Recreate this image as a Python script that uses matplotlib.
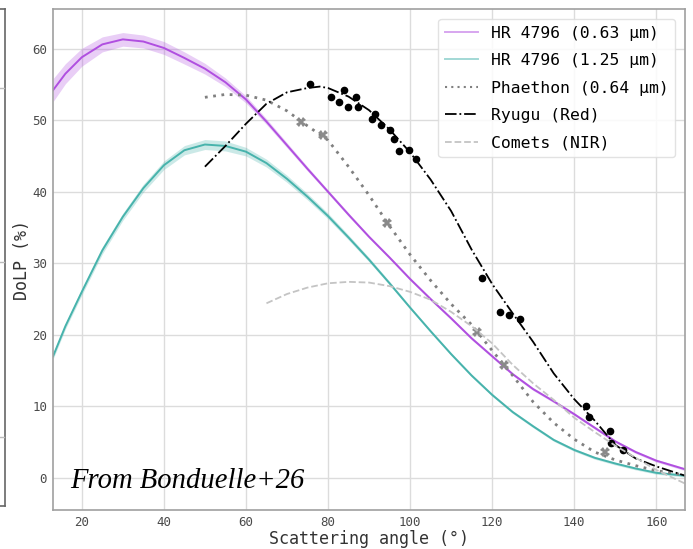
import matplotlib.pyplot as plt
from matplotlib.lines import Line2D

# HR 4796 model curves (degree of linear polarisation, %)
hr_angle = [13, 16, 20, 25, 30, 35, 40, 45, 50, 55, 60, 65, 70, 75, 80, 85, 90,
            95, 100, 105, 110, 115, 120, 125, 130, 135, 140, 145, 150, 155, 160, 167]
hr_063 = [54.2, 56.5, 58.8, 60.6, 61.3, 61.0, 60.1, 58.7, 57.2, 55.3, 52.9, 49.8,
          46.5, 43.2, 40.0, 36.8, 33.7, 30.8, 27.8, 25.0, 22.3, 19.5, 17.0, 14.5,
          12.4, 10.7, 8.9, 7.0, 5.1, 3.6, 2.4, 1.2]
hr_063_err = [1.6, 1.4, 1.25, 1.05, 0.95, 0.9, 0.9, 0.85, 0.75, 0.6, 0.5, 0.4,
              0.35, 0.3, 0.25, 0.25, 0.2, 0.2, 0.2, 0.2, 0.2, 0.2, 0.2, 0.2,
              0.2, 0.2, 0.2, 0.2, 0.2, 0.2, 0.2, 0.2]
hr_125 = [17.0, 21.2, 26.0, 31.8, 36.5, 40.5, 43.7, 45.8, 46.6, 46.4, 45.6, 44.0,
          41.8, 39.3, 36.6, 33.6, 30.5, 27.2, 23.8, 20.5, 17.3, 14.3, 11.6, 9.2,
          7.2, 5.3, 3.9, 2.8, 2.0, 1.3, 0.7, 0.3]
hr_125_err = [0.4, 0.4, 0.45, 0.5, 0.5, 0.55, 0.6, 0.65, 0.7, 0.7, 0.6, 0.55,
              0.5, 0.45, 0.4, 0.35, 0.3, 0.25, 0.2, 0.2, 0.2, 0.2, 0.2, 0.2,
              0.2, 0.2, 0.2, 0.2, 0.2, 0.2, 0.2, 0.2]

# Phaethon (0.64 um)
ph_angle = [50, 55, 60, 65, 70, 75, 80, 85, 90, 95, 100, 105, 110, 115, 120,
            125, 130, 135, 140, 145, 150, 155, 160, 167]
ph_fit = [53.2, 53.6, 53.5, 52.8, 51.3, 49.2, 47.2, 43.5, 39.5, 35.2, 31.2, 27.6,
          24.3, 21.4, 17.8, 14.3, 10.6, 7.7, 5.4, 3.6, 2.5, 1.7, 1.0, 0.4]
ph_obs_angle = [73.5, 78.8, 94.4, 116.4, 122.8, 147.6]
ph_obs = [49.8, 48.0, 35.6, 20.4, 15.8, 3.6]

# Ryugu (Red)
ry_angle = [50, 55, 60, 65, 70, 75, 78, 80, 85, 90, 95, 100, 105, 110, 115, 120,
            125, 130, 135, 140, 145, 150, 155, 160, 167]
ry_fit = [43.5, 46.4, 49.5, 52.3, 53.9, 54.5, 54.7, 54.5, 53.3, 51.4, 48.7, 45.5,
          41.7, 37.3, 31.9, 27.1, 23.0, 19.0, 14.6, 11.0, 8.0, 4.6, 2.7, 1.6, 0.3]
ry_obs_angle = [75.7, 80.7, 82.6, 84.0, 84.9, 86.8, 87.2, 90.7, 91.5, 93.0, 95.2,
                96.0, 97.2, 99.8, 101.5, 117.5, 122.0, 124.0, 126.9, 142.9, 143.5,
                148.7, 148.9, 151.9]
ry_obs = [55.1, 53.2, 52.6, 54.2, 51.8, 53.2, 51.9, 50.2, 50.9, 49.3, 48.6, 47.4,
          45.7, 45.9, 44.6, 28.0, 23.2, 22.8, 22.2, 10.1, 8.5, 6.5, 4.9, 3.9]

# Comets (NIR)
co_angle = [65, 70, 75, 80, 85, 90, 95, 100, 105, 110, 115, 120, 125, 130, 135,
            140, 145, 150, 155, 160, 167]
co_fit = [24.4, 25.7, 26.6, 27.2, 27.4, 27.3, 26.8, 26.0, 24.9, 23.2, 21.2, 18.8,
          15.8, 13.2, 10.9, 8.4, 6.4, 4.5, 2.8, 1.1, -0.8]

purple = "#b04fe0"
teal = "#47b3ac"

fig = plt.figure(figsize=(6.93, 5.49), dpi=100)
ax = fig.add_axes([0.076, 0.071, 0.9125, 0.912])

lo = [v - e for v, e in zip(hr_063, hr_063_err)]
hi = [v + e for v, e in zip(hr_063, hr_063_err)]
ax.fill_between(hr_angle, lo, hi, color=purple, alpha=0.28, lw=0)
ax.plot(hr_angle, hr_063, color=purple, lw=1.4)

lo = [v - e for v, e in zip(hr_125, hr_125_err)]
hi = [v + e for v, e in zip(hr_125, hr_125_err)]
ax.fill_between(hr_angle, lo, hi, color=teal, alpha=0.28, lw=0)
ax.plot(hr_angle, hr_125, color=teal, lw=1.4)

ax.plot(ph_angle, ph_fit, color="#808080", lw=2, ls=(0, (1, 2)))
ax.plot(ph_obs_angle, ph_obs, ls="none", marker="X", ms=7, color="#8a8a8a",
        markeredgewidth=0)

ax.plot(ry_angle, ry_fit, color="black", lw=1.3, ls="-.")
ax.plot(ry_obs_angle, ry_obs, ls="none", marker="o", ms=4.5, color="black")

ax.plot(co_angle, co_fit, color="#c4c4c4", lw=1.3, ls="--")

ax.set_xlim(12.9, 167)
ax.set_ylim(-4.5, 65.5)
ax.set_xticks([20, 40, 60, 80, 100, 120, 140, 160])
ax.set_yticks([0, 10, 20, 30, 40, 50, 60])
ax.grid(color="#dcdcdc", lw=1)
ax.set_axisbelow(True)
for s in ax.spines.values():
    s.set_color("#a0a0a0")
    s.set_linewidth(1.2)
ax.tick_params(length=0, pad=4, labelsize=9, labelcolor="#4a4a4a")
for lab in ax.get_xticklabels() + ax.get_yticklabels():
    lab.set_family("DejaVu Sans Mono")

ax.set_xlabel("Scattering angle (°)", family="DejaVu Sans Mono", fontsize=12,
              color="#333333", labelpad=1)
ax.set_ylabel("DoLP (%)", family="DejaVu Sans Mono", fontsize=12,
              color="#333333", labelpad=0.5)

handles = [
    Line2D([], [], color=purple, lw=1.4, alpha=0.5),
    Line2D([], [], color=teal, lw=1.4, alpha=0.5),
    Line2D([], [], color="#808080", lw=1.5, ls=(0, (1, 2))),
    Line2D([], [], color="black", lw=1.3, ls="-."),
    Line2D([], [], color="#c4c4c4", lw=1.3, ls="--"),
]
labels = ["HR 4796 (0.63 µm)", "HR 4796 (1.25 µm)", "Phaethon (0.64 µm)",
          "Ryugu (Red)", "Comets (NIR)"]
ax.legend(handles, labels, loc="upper right", prop={"family": "DejaVu Sans Mono", "size": 11.8},
          labelspacing=0.76, framealpha=0.85, edgecolor="#dddddd",
          borderaxespad=0.6)

ax.text(0.027, 0.044, "From Bonduelle+26", transform=ax.transAxes,
        family="Liberation Serif", style="italic", fontsize=20.6, color="black")

# edge of the neighbouring panel on the left
W, H = 693, 549
fig.add_artist(Line2D([4.5 / W, 4.5 / W], [1 - 9 / H, 1 - 506 / H], color="#666666", lw=1.2))
fig.add_artist(Line2D([0, 4.5 / W], [1 - 9 / H, 1 - 9 / H], color="#666666", lw=1.2))
fig.add_artist(Line2D([0, 4.5 / W], [1 - 506 / H, 1 - 506 / H], color="#666666", lw=1.2))
for yp in [88, 262, 437]:
    fig.add_artist(Line2D([0, 4 / W], [1 - yp / H, 1 - yp / H], color="#bbbbbb", lw=1))

fig.savefig("out.png", dpi=100)
